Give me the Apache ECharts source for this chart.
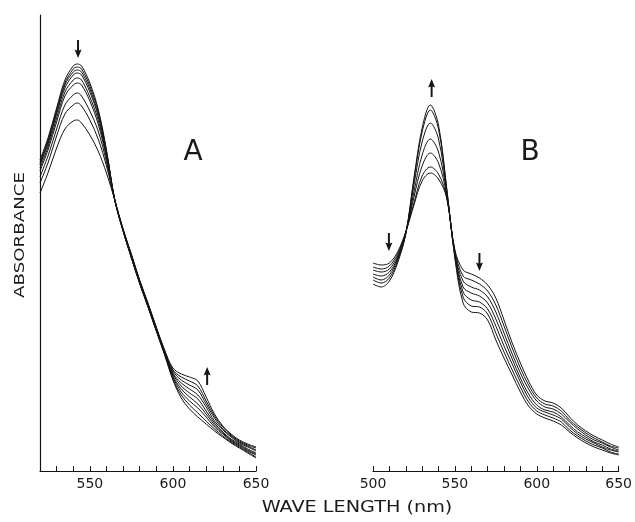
<!DOCTYPE html>
<html>
<head>
<meta charset="utf-8">
<script src="https://cdn.jsdelivr.net/npm/echarts@6/dist/echarts.min.js"></script>
<style>
html,body{margin:0;padding:0;background:#fff;}
#chart{width:635px;height:522px;}
</style>
</head>
<body>
<div id="chart"></div>
<script>
// Panel A wavelengths (nm)
var waveA = [520,525,530,535,540,542.5,545,550,555,560,565,570,575,580,585,590,595,600,605,610,615,620,625,630,635,640,645,650];
// Panel A absorbance traces (arbitrary units), first = highest peak
var a1 = [311,334,363,391,405,407,405,388,362,321,271,240,213,187,164,140,116,91,73,62,54,47,40,34,28,23,18,13];
var a2 = [309,332,361,388,402,404,402,385,360,320,271,240,213,188,164,140,117,92,76,66,58,50,42,35,29,24,19,14];
var a3 = [307,330,359,386,399,401,399,382,357,319,271,240,214,188,165,141,117,94,79,70,63,54,44,37,30,25,20,16];
var a4 = [306,328,357,383,396,398,396,379,355,317,271,241,214,188,165,141,118,95,82,74,67,57,46,38,31,26,21,17];
var a5 = [303,325,353,379,391,393,391,374,351,315,271,241,215,189,166,142,118,97,85,78,72,60,48,39,32,27,22,18];
var a6 = [300,322,349,375,386,388,386,370,347,313,271,241,215,189,166,142,119,98,88,82,76,64,50,41,34,28,24,20];
var a7 = [294,316,342,366,376,378,375,360,340,309,271,241,216,190,167,143,120,100,91,86,81,67,53,42,35,29,25,21];
var a8 = [288,309,335,357,366,368,365,351,332,305,271,242,216,190,167,143,120,101,94,90,85,70,55,44,36,30,26,23];
var a9 = [278,299,323,342,350,351,348,336,320,298,271,242,217,191,168,144,121,103,97,94,90,74,57,45,37,31,27,24];

// Panel B wavelengths (nm)
var waveB = [500,505,510,515,520,525,530,535,540,545,550,555,560,565,570,575,580,585,590,595,600,605,610,615,620,625,630,635,640,645,650];
// Panel B absorbance traces, first = lowest peak
var b1 = [208,206,208,219,239,266,290,298,292,273,221,201,197,193,186,173,151,128,108,90,76,70,68,63,54,46,40,35,31,27,24];
var b2 = [204,202,205,217,239,268,295,304,297,274,220,195,191,187,180,166,145,123,103,86,73,67,65,60,51,44,38,33,29,25,23];
var b3 = [201,199,202,215,238,274,305,318,308,276,218,190,184,181,174,159,138,117,98,82,70,64,62,57,49,42,36,31,28,24,21];
var b4 = [197,195,199,213,238,279,316,332,319,278,217,184,178,175,168,152,132,112,93,77,66,61,59,54,46,39,34,29,26,22,20];
var b5 = [194,191,196,212,238,286,329,348,332,280,216,179,171,169,162,145,125,107,89,73,63,59,56,52,44,37,32,28,24,21,19];
var b6 = [191,188,193,210,237,291,339,361,342,282,214,174,165,164,157,138,119,101,84,69,60,56,53,49,41,35,30,26,23,19,17];
var b7 = [187,184,190,208,237,293,343,366,346,283,213,168,159,158,151,131,113,96,79,65,57,53,50,46,39,33,28,24,21,18,16];

// Arrow annotations: [wavelength, absorbance, direction]
var arrowsA = [[542.9, 422, 'down'], [620.6, 95, 'up']];
var arrowsB = [[535.8, 383, 'up'], [509.7, 229, 'down'], [565, 209, 'down']];

var tracesA = [a1,a2,a3,a4,a5,a6,a7,a8,a9];
var tracesB = [b1,b2,b3,b4,b5,b6,b7];

var INK = '#141414';
var FONT = 'DejaVu Sans';
var arrowPath = 'path://M3.6,0 L6.4,0 L6.4,10.5 L10,9.5 L5,18 L0,9.5 L3.6,10.5 Z';

function toPts(wave, vals){ return wave.map(function(w,i){ return [w, vals[i]]; }); }
function arrowMarks(list){
  return list.map(function(a){
    return {coord:[a[0], a[1]], symbol: arrowPath, symbolSize:[7,18],
            symbolRotate: a[2]==='up' ? 180 : 0,
            itemStyle:{color:INK}, label:{show:false}};
  });
}

var series = [];
tracesA.forEach(function(t, i){
  var s = {type:'line', xAxisIndex:0, yAxisIndex:0, data: toPts(waveA, t),
    showSymbol:false, smooth:0.35, silent:true,
    lineStyle:{color:INK, width:1}};
  if(i===0){ s.markPoint = {silent:true, data: arrowMarks(arrowsA)}; }
  series.push(s);
});
tracesB.forEach(function(t, i){
  var s = {type:'line', xAxisIndex:1, yAxisIndex:1, data: toPts(waveB, t),
    showSymbol:false, smooth:0.35, silent:true,
    lineStyle:{color:INK, width:1}};
  if(i===0){ s.markPoint = {silent:true, data: arrowMarks(arrowsB)}; }
  series.push(s);
});

function xAx(idx, mn){
  return {type:'value', gridIndex:idx, min:mn, max:650, interval:10,
    axisLine:{show:true, onZero:false, lineStyle:{color:INK, width:1.2}},
    axisTick:{show:true, inside:true, length:5, lineStyle:{color:INK, width:1}},
    axisLabel:{show:true, margin:6, color:'#1a1a1a', fontFamily:FONT, fontSize:14,
      formatter:function(v){ return (v % 50 === 0) ? String(v) : ''; }},
    splitLine:{show:false}};
}
function yAx(idx, showLine){
  return {type:'value', gridIndex:idx, min:0, max:456,
    axisLine:{show:showLine, lineStyle:{color:INK, width:1.2}},
    axisTick:{show:false}, axisLabel:{show:false}, splitLine:{show:false}};
}

var chart = echarts.init(document.getElementById('chart'), null, {renderer:'canvas'});
chart.setOption({
  animation:false,
  backgroundColor:'#ffffff',
  grid:[{left:40, top:15, width:216, height:456},
        {left:373, top:15, width:247, height:456}],
  xAxis:[xAx(0,520), xAx(1,500)],
  yAxis:[yAx(0,true), yAx(1,false)],
  series: series,
  graphic:[
    {type:'text', x:20, y:235, rotation:Math.PI/2, scaleX:1.3, silent:true,
     style:{text:'ABSORBANCE', font:'14px "DejaVu Sans"', fill:'#1a1a1a',
            textAlign:'center', textVerticalAlign:'middle', align:'center', verticalAlign:'middle'}},
    {type:'text', x:357, y:508, scaleX:1.2, silent:true,
     style:{text:'WAVE LENGTH (nm)', font:'16px "DejaVu Sans"', fill:'#1a1a1a',
            textAlign:'center', textVerticalAlign:'middle', align:'center', verticalAlign:'middle'}},
    {type:'text', x:193, y:153, silent:true,
     style:{text:'A', font:'28px "DejaVu Sans"', fill:'#1a1a1a',
            textAlign:'center', textVerticalAlign:'middle', align:'center', verticalAlign:'middle'}},
    {type:'text', x:530, y:153, silent:true,
     style:{text:'B', font:'28px "DejaVu Sans"', fill:'#1a1a1a',
            textAlign:'center', textVerticalAlign:'middle', align:'center', verticalAlign:'middle'}}
  ]
});
</script>
</body>
</html>
